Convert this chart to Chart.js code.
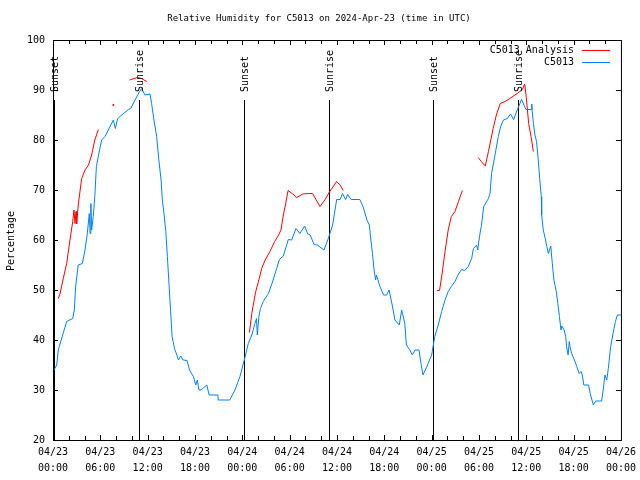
<!DOCTYPE html>
<html>
<head>
<meta charset="utf-8">
<script src="https://cdn.jsdelivr.net/npm/chart.js@4.4.1/dist/chart.umd.min.js"></script>
<style>
  html, body { margin: 0; padding: 0; background: #fff; }
</style>
</head>
<body>
<canvas id="rhChart" width="640" height="480"></canvas>
<script>
// hours since 04/23 00:00 UTC
var obsHours = [0.13, 0.47, 0.67, 1.3, 1.73, 2.5, 2.7, 2.87, 3.2, 3.72, 4.06, 4.35, 4.6, 4.7, 4.8, 4.9, 5.1, 5.3, 5.5, 5.9,
  6.17, 6.6, 7.65, 7.9, 8.2, 9.55, 9.85, 10.9, 11.24, 11.66, 12.3, 12.5, 12.8, 13.14, 13.4, 13.7, 13.86, 14.07, 14.3, 14.5,
  14.7, 14.9, 15.1, 15.4, 15.7, 15.9, 16.2, 16.5, 17.0, 17.3, 17.8, 18.1, 18.3, 18.5, 18.76, 19.5, 19.8, 20.9, 20.95, 22.4,
  23.07, 23.7, 24.25, 24.76, 25.2, 25.6, 25.8, 25.9, 26.1, 26.3, 26.66, 27.3, 27.7, 28.35, 28.7, 29.2, 29.83, 30.25, 30.8, 31.3,
  31.9, 32.3, 32.6, 33.1, 33.5, 34.35, 34.9, 35.45, 35.96, 36.4, 36.7, 37.1, 37.35, 37.8, 38.9, 39.3, 39.8, 40.1, 40.3, 40.5,
  40.7, 40.9, 41.0, 41.45, 41.9, 42.3, 42.6, 43.0, 43.35, 43.9, 44.2, 44.6, 44.8, 45.25, 45.55, 45.9, 46.4, 46.65, 46.9, 47.4,
  48.0, 48.4, 48.84, 49.27, 49.7, 50.1, 50.5, 50.96, 51.4, 51.8, 52.2, 52.65, 53.07, 53.3, 53.7, 53.85, 53.95, 54.2, 54.3, 54.6,
  55.2, 55.4, 55.6, 56.0, 56.45, 56.75, 57.1, 57.6, 58.0, 58.4, 58.85, 59.4, 59.96, 60.6, 60.7, 60.75, 60.9, 61.1, 61.3, 61.5,
  61.7, 61.9, 61.95, 62.15, 62.4, 62.6, 62.8, 63.1, 63.3, 63.5, 63.8, 64.0, 64.2, 64.4, 64.5, 64.8, 65.0, 65.1, 65.3, 65.45,
  65.55, 65.75, 66.1, 66.4, 66.7, 66.95, 67.1, 67.3, 67.9, 68.1, 68.5, 68.8, 69.55, 69.75, 69.97, 70.2, 70.4, 70.7, 71.0, 71.3,
  71.55, 72.0];
var obsRh = [34, 35, 38, 41.4, 43.7, 44.3, 46, 50.7, 55, 55.3, 58, 61.3, 65.3, 61.3, 67.3, 62, 64.7, 68.7, 74.7, 78,
  80, 80.7, 84, 82.3, 84.3, 86.1, 86.3, 89.5, 90.3, 89, 89.2, 87.3, 84, 80.7, 76.3, 72, 68, 65.3, 61.7, 56.7,
  51.3, 46, 40.7, 38.3, 37, 36, 36.8, 36, 35.9, 34, 32.7, 31, 32, 30, 30, 31, 29, 29, 28, 28,
  30, 32.7, 36, 39.3, 41, 43.3, 44.3, 41, 44.7, 46.3, 47.7, 49.3, 51, 54.3, 56.1, 56.8, 60.1, 60, 62.3, 61.3,
  62.8, 61.2, 61, 59.1, 59, 58, 60.3, 63, 68.1, 68.1, 69.3, 68.1, 69.1, 68.1, 68.1, 66.7, 64, 63, 60, 57.3,
  54, 52, 53, 50.7, 49, 49, 50, 47, 44, 43, 46, 43.3, 39, 38, 37, 38, 38, 35.3, 33, 34.7,
  37, 40.7, 43, 45.7, 48, 49.7, 50.7, 51.7, 53.2, 54.1, 53.9, 54.7, 56.3, 58.3, 59, 58, 59.4, 62, 62.7, 66.7,
  68.3, 69.3, 73.3, 76.7, 80.7, 82.7, 84, 84.3, 85.2, 84.1, 86, 88.1, 86.1, 86.1, 87.2, 85.7, 83.3, 81, 79.7, 76.3,
  72.3, 68.7, 65, 62, 60.3, 58.7, 57.3, 58.8, 55.3, 52, 49.7, 47.3, 44.7, 42, 42.8, 42, 40.7, 38.7, 37, 39.7,
  38.7, 37.3, 36, 34.7, 33.3, 33.7, 33, 31, 31, 29.3, 27, 27.8, 27.8, 30, 33, 32, 34.3, 38.7, 41.3, 43.7,
  45, 45];

// analysis series, null = gap
var anaHours = [0.67, 0.9, 1.3, 1.73, 2.15, 2.5, 2.66, 2.79, 2.92, 3.0, 3.2, 3.63, 4.06, 4.5, 4.9, 5.3, 5.75,
  6.5, 7.65, 8.5,
  9.7, 10.7, 11.2, 11.9,
  18,
  24.9, 25.2, 25.5, 25.7, 26.15, 26.45, 26.9, 27.5, 28.1, 28.6, 28.9, 29.2, 29.5, 29.8, 30.4, 30.9, 31.65, 32.4, 32.9,
  33.85, 34.5, 35.0, 35.96, 36.4, 36.8,
  42,
  48.7, 49.0, 49.3, 49.7, 50.1, 50.5, 50.96, 51.4, 51.9,
  53,
  53.9, 54.3, 54.8, 55.2, 55.8, 56.2, 56.7, 57.3, 57.9, 58.85, 59.5, 59.8, 60.0, 60.3, 60.6, 60.9];
var anaRh = [48.3, 49.3, 52.3, 55.3, 60, 63.7, 66, 63.3, 65.7, 63.2, 67, 72.3, 74, 75, 77, 80, 82.1,
  null, 87, null,
  92, 92.5, 92.3, 91.7,
  null,
  41.5, 45.3, 48, 49.7, 52.3, 54.3, 56, 57.7, 59.7, 61, 62, 65, 67.3, 69.9, 69.2, 68.5, 69.2, 69.3, 69.3,
  66.7, 68.1, 69.5, 71.7, 71, 69.9,
  null,
  49.9, 49.9, 53, 57.7, 62, 64.7, 65.7, 67.7, 69.9,
  null,
  76.5, 75.7, 74.8, 77.7, 82.3, 85, 87.3, 87.7, 88.3, 89.3, 90.1, 91.2, 88.5, 83.3, 80.7, 77.7];

var sunLabels = ['Sunset', 'Sunrise', 'Sunset', 'Sunrise', 'Sunset', 'Sunrise'];
var sunHours = [0.16, 10.95, 24.22, 35.0, 48.2, 59.0];

var FONT = "'DejaVu Sans Mono', 'Liberation Mono', monospace";

function toPoints(hours, values) {
  var pts = [];
  for (var i = 0; i < hours.length; i++) {
    pts.push({ x: hours[i], y: values[i] });
  }
  return pts;
}

function tickLabel(h) {
  var day = 23 + Math.floor(h / 24);
  var hr = h % 24;
  return ['04/' + day, (hr < 10 ? '0' : '') + hr + ':00'];
}

var overlay = {
  id: 'overlay',
  beforeDatasetsDraw: function (chart) {
    var ctx = chart.ctx;
    var xs = chart.scales.x, ys = chart.scales.y;
    ctx.save();
    ctx.strokeStyle = '#000';
    ctx.lineWidth = 1;
    for (var i = 0; i < sunHours.length; i++) {
      var px = Math.round(xs.getPixelForValue(sunHours[i])) + 0.5;
      ctx.beginPath();
      ctx.moveTo(px, ys.getPixelForValue(20));
      ctx.lineTo(px, ys.getPixelForValue(88));
      ctx.stroke();
    }
    ctx.restore();
  },
  afterDraw: function (chart) {
    var ctx = chart.ctx;
    var a = chart.chartArea;
    var xs = chart.scales.x, ys = chart.scales.y;
    ctx.save();
    ctx.strokeStyle = '#000';
    ctx.lineWidth = 1;
    ctx.strokeRect(a.left + 0.5, a.top + 0.5, a.right - a.left, a.bottom - a.top);

    // inward ticks
    ctx.beginPath();
    for (var h = 2; h < 72; h += 2) {
      var px = Math.round(xs.getPixelForValue(h)) + 0.5;
      var len = (h % 6 === 0) ? 5 : 4;
      ctx.moveTo(px, a.bottom);
      ctx.lineTo(px, a.bottom - len);
      ctx.moveTo(px, a.top);
      ctx.lineTo(px, a.top + len);
    }
    for (var v = 30; v < 100; v += 10) {
      var py = Math.round(ys.getPixelForValue(v)) + 0.5;
      ctx.moveTo(a.left, py);
      ctx.lineTo(a.left + 5, py);
      ctx.moveTo(a.right, py);
      ctx.lineTo(a.right - 5, py);
    }
    ctx.stroke();

    ctx.fillStyle = '#000';
    ctx.font = '10px ' + FONT;

    // sunrise / sunset labels, reading upward from just above the line
    for (var i = 0; i < sunHours.length; i++) {
      var sx = Math.round(xs.getPixelForValue(sunHours[i])) + 1;
      ctx.save();
      ctx.translate(sx, ys.getPixelForValue(89.6));
      ctx.rotate(-Math.PI / 2);
      ctx.textAlign = 'left';
      ctx.textBaseline = 'middle';
      ctx.fillText(sunLabels[i], 0, 0);
      ctx.restore();
    }

    // title
    ctx.textAlign = 'center';
    ctx.textBaseline = 'middle';
    ctx.font = '9px ' + FONT;
    ctx.fillText('Relative Humidity for C5013 on 2024-Apr-23 (time in UTC)', 319, 19);
    ctx.font = '10px ' + FONT;

    // y axis title
    ctx.save();
    ctx.translate(11, 241);
    ctx.rotate(-Math.PI / 2);
    ctx.fillText('Percentage', 0, 0);
    ctx.restore();

    // legend
    var ds = chart.data.datasets;
    var order = [1, 0];
    for (var k = 0; k < order.length; k++) {
      var d = ds[order[k]];
      var ly = 50 + k * 12;
      ctx.textAlign = 'right';
      ctx.fillStyle = '#000';
      ctx.fillText(d.label, 574, ly);
      ctx.strokeStyle = d.borderColor;
      ctx.beginPath();
      ctx.moveTo(582, ly + 0.5);
      ctx.lineTo(610, ly + 0.5);
      ctx.stroke();
    }
    ctx.restore();
  }
};

function isolated(ctx) {
  var data = ctx.dataset.data;
  var i = ctx.dataIndex;
  if (data[i] == null || data[i].y == null) return 0;
  var prev = i > 0 ? data[i - 1].y : null;
  var next = i < data.length - 1 ? data[i + 1].y : null;
  return (prev == null && next == null) ? 1 : 0;
}

new Chart(document.getElementById('rhChart').getContext('2d'), {
  type: 'line',
  data: {
    datasets: [{
      label: 'C5013',
      data: toPoints(obsHours, obsRh),
      borderColor: '#0080ff',
      backgroundColor: '#0080ff',
      borderWidth: 1,
      pointRadius: 0,
      tension: 0,
      order: 0
    }, {
      label: 'C5013 Analysis',
      data: toPoints(anaHours, anaRh),
      borderColor: '#ff0000',
      backgroundColor: '#ff0000',
      borderWidth: 1,
      pointRadius: isolated,
      pointBorderWidth: 0,
      tension: 0,
      spanGaps: false,
      order: 1
    }]
  },
  options: {
    responsive: false,
    animation: false,
    layout: { padding: { left: 0, top: 40, right: 19, bottom: 0 } },
    plugins: {
      legend: { display: false },
      tooltip: { enabled: false }
    },
    scales: {
      x: {
        type: 'linear',
        min: 0,
        max: 72,
        afterFit: function (scale) { scale.height = 40; },
        grid: { display: false, drawTicks: false },
        border: { display: false },
        ticks: {
          stepSize: 6,
          autoSkip: false,
          maxRotation: 0,
          padding: 4,
          color: '#000',
          font: { family: FONT, size: 10, lineHeight: 1.65 },
          callback: function (value) { return tickLabel(value); }
        }
      },
      y: {
        min: 20,
        max: 100,
        afterFit: function (scale) { scale.width = 53; },
        grid: { display: false, drawTicks: false },
        border: { display: false },
        ticks: {
          stepSize: 10,
          padding: 8,
          color: '#000',
          font: { family: FONT, size: 10 }
        }
      }
    }
  },
  plugins: [overlay]
});
</script>
</body>
</html>
